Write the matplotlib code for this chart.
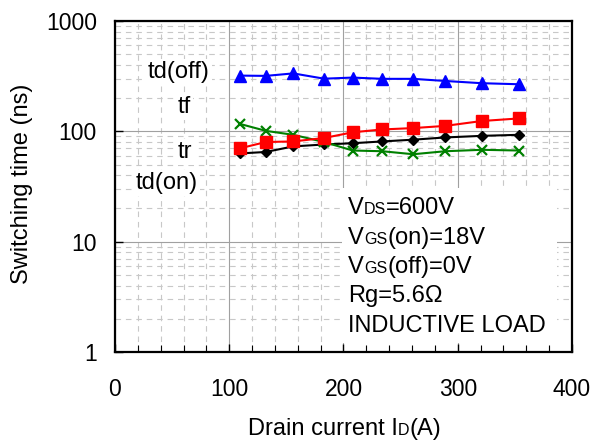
import numpy as np
import matplotlib.pyplot as plt
from matplotlib.ticker import MultipleLocator, LogLocator, FuncFormatter, NullFormatter
from matplotlib.patches import Rectangle

plt.rcParams['font.family'] = ['Liberation Sans', 'DejaVu Sans']
plt.rcParams['lines.scale_dashes'] = False

# drain current (A)
i_d = [109, 132, 156, 183, 208, 234, 261, 289, 321, 354]
# switching times (ns)
td_off = [320, 318, 335, 300, 307, 299, 299, 286, 273, 267]
tf = [117, 101, 93, 80, 67, 66, 62, 66, 68, 67]
tr = [70, 80, 81, 87, 98, 104, 107, 112, 124, 131]
td_on = [63, 65, 73, 76, 78, 81, 84, 88, 91, 93]

curve_names = ['td(off)', 'tf', 'tr', 'td(on)']
conditions = [
    [('V', 17), ('DS', 11.5), ('=600V', 17)],
    [('V', 17), ('GS', 11.5), ('(on)=18V', 17)],
    [('V', 17), ('GS', 11.5), ('(off)=0V', 17)],
    [('Rg=5.6\u03a9', 17)],
    [('INDUCTIVE LOAD', 17)],
]

fig = plt.figure(figsize=(5.93, 4.41), dpi=100)
ax = fig.add_axes([0.1939, 0.2018, 0.7707, 0.7506])


def chain_text(x, y, parts, coords):
    # pieces of different size sharing one baseline
    s, fs = parts[0]
    if coords == 'axes fraction':
        t = ax.text(x, y, s, fontsize=fs, va='baseline', ha='left', transform=ax.transAxes, zorder=6)
    else:
        t = fig.text(x, y, s, fontsize=fs, va='baseline', ha='left')
    for s, fs in parts[1:]:
        t = ax.annotate(s, xy=(1, y), xycoords=(t, coords), fontsize=fs,
                        va='baseline', ha='left', zorder=6, annotation_clip=False)
    return t


ax.plot(i_d, td_on, color='black', marker='D', ms=5.4, lw=1.5, zorder=4)
ax.plot(i_d, tf, color='#008000', marker='x', ms=7.5, mew=1.6, lw=1.5, zorder=4)
ax.plot(i_d, tr, color='#ff0000', marker='s', ms=8.3, lw=1.5, zorder=5)
ax.plot(i_d, td_off, color='#0000ff', marker='^', ms=9, lw=1.5, zorder=5)

ax.set_yscale('log')
ax.set_xlim(0, 400)
ax.set_ylim(1, 1000)
ax.xaxis.set_major_locator(MultipleLocator(100))
ax.xaxis.set_minor_locator(MultipleLocator(20))
ax.yaxis.set_major_locator(LogLocator(base=10))
ax.yaxis.set_minor_locator(LogLocator(base=10, subs=np.arange(2, 10)))
ax.yaxis.set_major_formatter(FuncFormatter(lambda v, p: '%g' % v))
ax.yaxis.set_minor_formatter(NullFormatter())

ax.grid(which='major', color='#a0a0a0', lw=0.8, ls='-')
ax.grid(which='minor', color='#c8c8c8', lw=0.8, ls=(0, (4, 3.5)))
ax.set_axisbelow(True)

ax.tick_params(which='both', direction='in', labelsize=16.5, colors='black')
ax.tick_params(axis='x', which='major', length=6, width=1, pad=19)
ax.tick_params(axis='x', which='minor', length=5, width=0.8)
ax.tick_params(axis='y', which='major', length=6, width=1, pad=13)
ax.tick_params(axis='y', which='minor', length=0)
for sp in ax.spines.values():
    sp.set_linewidth(1.6)
    sp.set_color('black')

ax.set_ylabel('Switching time (ns)', fontsize=17)
ax.yaxis.set_label_coords(-0.179, 0.509)

# curve labels
label_pos = [(56, 345), (61, 166), (61, 65), (45.5, 34)]
for name, (lx, ly) in zip(curve_names, label_pos):
    ax.text(lx, ly, name, fontsize=17, ha='center', va='center', zorder=3,
            bbox=dict(facecolor='white', edgecolor='none', pad=1.5))

# test conditions block
ax.add_patch(Rectangle((0.497, 0.027), 0.47, 0.468, transform=ax.transAxes,
                       facecolor='white', edgecolor='none', zorder=2))
baselines = [0.4169, 0.3263, 0.2396, 0.1520, 0.0613]
for parts, by in zip(conditions, baselines):
    chain_text(0.5105, by, parts, 'axes fraction')

chain_text(0.418, 0.0136, [('Drain current I', 17), ('D', 11.5), ('(A)', 17)], 'figure fraction')

fig.savefig('out.png', dpi=100)
